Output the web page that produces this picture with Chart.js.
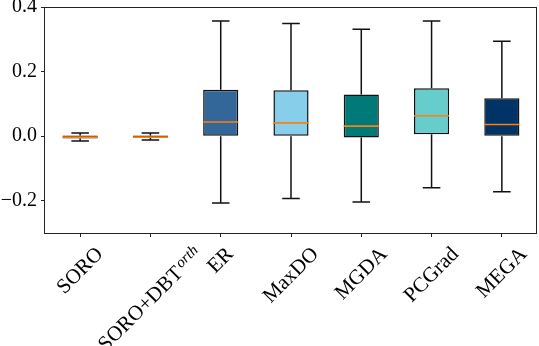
<!DOCTYPE html>
<html>
<head>
<meta charset="utf-8">
<script src="https://cdn.jsdelivr.net/npm/chart.js@4.4.0/dist/chart.umd.min.js"></script>
<style>
html,body{margin:0;padding:0;background:#fff;}
#c{display:block;}
</style>
</head>
<body>
<canvas id="c" width="539" height="346"></canvas>
<script>
const categories = ['SORO', 'SORO+DBT', 'ER', 'MaxDO', 'MGDA', 'PCGrad', 'MEGA'];
const labelScripts = ['', 'orth', '', '', '', '', ''];
const whiskerHigh = [0.010, 0.010, 0.357, 0.349, 0.331, 0.357, 0.294];
const q3 = [0.002, 0.002, 0.144, 0.142, 0.129, 0.148, 0.117];
const medians = [-0.003, -0.003, 0.044, 0.041, 0.031, 0.063, 0.036];
const q1 = [-0.007, -0.006, 0.000, 0.000, -0.004, 0.006, 0.000];
const whiskerLow = [-0.015, -0.012, -0.207, -0.193, -0.204, -0.160, -0.172];
const boxColors = ['#c8c8c8', '#c8c8c8', '#336699', '#87CEEB', '#007A78', '#66CCCC', '#003366'];
const yTicks = [-0.2, 0.0, 0.2, 0.4];

const FONT = '"Liberation Serif", "Times New Roman", serif';
const FS = 20;
const XFS = 21;

const whiskerPlugin = {
  id: 'whiskers',
  beforeDatasetsDraw(chart) {
    const ctx = chart.ctx, xs = chart.scales.x, ys = chart.scales.y;
    const unit = xs.getPixelForValue(1) - xs.getPixelForValue(0);
    const capHalf = unit * 0.125;
    ctx.save();
    ctx.strokeStyle = '#111';
    ctx.lineWidth = 1.5;
    categories.forEach((c, i) => {
      const x = xs.getPixelForValue(i);
      ctx.beginPath();
      ctx.moveTo(x, ys.getPixelForValue(whiskerHigh[i]));
      ctx.lineTo(x, ys.getPixelForValue(q3[i]));
      ctx.moveTo(x, ys.getPixelForValue(q1[i]));
      ctx.lineTo(x, ys.getPixelForValue(whiskerLow[i]));
      ctx.moveTo(x - capHalf, ys.getPixelForValue(whiskerHigh[i]));
      ctx.lineTo(x + capHalf, ys.getPixelForValue(whiskerHigh[i]));
      ctx.moveTo(x - capHalf, ys.getPixelForValue(whiskerLow[i]));
      ctx.lineTo(x + capHalf, ys.getPixelForValue(whiskerLow[i]));
      ctx.stroke();
    });
    ctx.restore();
  },
  afterDatasetsDraw(chart) {
    const ctx = chart.ctx, xs = chart.scales.x, ys = chart.scales.y;
    const unit = xs.getPixelForValue(1) - xs.getPixelForValue(0);
    const half = unit * 0.25;
    ctx.save();
    ctx.strokeStyle = '#ff7f0e';
    ctx.lineWidth = 1.6;
    categories.forEach((c, i) => {
      const x = xs.getPixelForValue(i);
      const y = ys.getPixelForValue(medians[i]);
      ctx.beginPath();
      ctx.moveTo(x - half, y);
      ctx.lineTo(x + half, y);
      ctx.stroke();
    });
    ctx.restore();
  },
  afterDraw(chart) {
    const ctx = chart.ctx, a = chart.chartArea, xs = chart.scales.x;
    ctx.save();
    ctx.strokeStyle = '#222';
    ctx.lineWidth = 1;
    ctx.strokeRect(Math.round(a.left) - 0.5, Math.round(a.top) + 0.5, Math.round(a.right - a.left), Math.round(a.bottom - a.top));
    ctx.fillStyle = '#000';
    categories.forEach((c, i) => {
      const sc = labelScripts[i];
      ctx.font = XFS + 'px ' + FONT;
      const w1 = ctx.measureText(c).width;
      let w2 = 0;
      const scFont = 'italic ' + Math.round(XFS * 0.7) + 'px ' + FONT;
      if (sc) { ctx.font = scFont; w2 = ctx.measureText(sc).width + 2; }
      const w = w1 + w2;
      const h = XFS * 0.68;
      const top = a.bottom + 12;
      const cx = xs.getPixelForValue(i) - 1;
      const cy = top + (w + h) / (2 * Math.SQRT2);
      ctx.save();
      ctx.translate(cx, cy);
      ctx.rotate(-Math.PI / 4);
      ctx.textBaseline = 'alphabetic';
      ctx.textAlign = 'left';
      ctx.font = XFS + 'px ' + FONT;
      ctx.fillText(c, -w / 2, h / 2);
      if (sc) {
        ctx.font = scFont;
        ctx.fillText(sc, -w / 2 + w1 + 2, h / 2 - XFS * 0.28);
      }
      ctx.restore();
    });
    ctx.restore();
  }
};

new Chart(document.getElementById('c'), {
  type: 'bar',
  data: {
    labels: categories,
    datasets: [{
      data: categories.map((c, i) => [q1[i], q3[i]]),
      backgroundColor: boxColors,
      borderColor: '#111',
      borderWidth: 1.5,
      borderSkipped: false,
      barPercentage: 0.5,
      categoryPercentage: 1.0
    }]
  },
  options: {
    responsive: false,
    animation: false,
    devicePixelRatio: 1,
    layout: { padding: { top: 7, right: 2, left: 0, bottom: 0 } },
    plugins: { legend: { display: false }, tooltip: { enabled: false } },
    scales: {
      x: {
        type: 'category',
        offset: true,
        grid: { display: true, drawOnChartArea: false, offset: false, tickLength: 4, tickColor: '#222', tickWidth: 1 },
        border: { display: false },
        ticks: { display: false },
        afterFit(scale) { scale.height = 113; scale.paddingLeft = 0; scale.paddingRight = 0; }
      },
      y: {
        type: 'linear',
        min: -0.3,
        max: 0.4,
        grid: { display: true, drawOnChartArea: false, tickLength: 4, tickColor: '#222', tickWidth: 1 },
        border: { display: false },
        afterBuildTicks(scale) { scale.ticks = yTicks.map(v => ({ value: v })); },
        ticks: {
          color: '#000',
          padding: 4,
          font: { family: FONT, size: FS },
          callback: (v) => Number(v).toFixed(1).replace('-', '\u2212')
        },
        afterFit(scale) { scale.width = 45; scale.paddingTop = 0; scale.paddingBottom = 0; }
      }
    }
  },
  plugins: [whiskerPlugin]
});
</script>
</body>
</html>
